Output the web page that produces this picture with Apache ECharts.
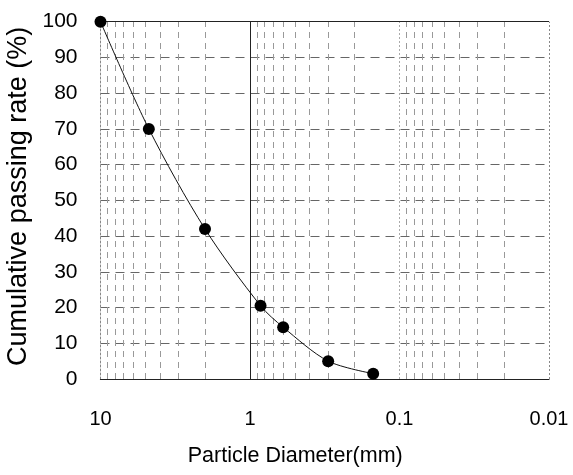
<!DOCTYPE html>
<html>
<head>
<meta charset="utf-8">
<script src="https://cdn.jsdelivr.net/npm/echarts@6/dist/echarts.min.js"></script>
<style>
html,body{margin:0;padding:0;background:#fff;}
#chart{width:573px;height:475px;}
</style>
</head>
<body>
<div id="chart"></div>
<script>
// ---- data ----
var diameters = [10, 4.75, 2.0, 0.85, 0.6, 0.3, 0.15];          // mm
var passing   = [100, 70, 42, 20.5, 14.5, 5, 1.5];                // %
var xTickValues = [10, 1, 0.1, 0.01];
var xTickLabels = ['10', '1', '0.1', '0.01'];
var yTickLabels = ['0','10','20','30','40','50','60','70','80','90','100'];
var minorGridX = [9,8,7,6,5,4,3,2, 0.9,0.8,0.7,0.6,0.5,0.4,0.3,0.2, 0.09,0.08,0.07,0.06,0.05,0.04,0.03,0.02];

var FONT = "'Liberation Sans', Arial, sans-serif";
var chart = echarts.init(document.getElementById('chart'), null, {renderer:'canvas'});

var points = diameters.map(function(d,i){ return [d, passing[i]]; });

var markData = [];
minorGridX.forEach(function(v){
  markData.push({xAxis: v, lineStyle:{type:[6,5], color:'#999', width:1}});
});
markData.push({xAxis: 1, lineStyle:{type:'solid', color:'#222', width:1}});
markData.push({xAxis: 0.1, lineStyle:{type:[2,2], color:'#aaa', width:1}});
markData.push({xAxis: 0.01, lineStyle:{type:[2,2], color:'#888', width:1}});
markData.push({yAxis: 100, lineStyle:{type:'solid', color:'#222', width:1.2}});

chart.setOption({
  backgroundColor:'#fff',
  animation:false,
  grid:{left:100.5, right:24, top:21.7, bottom:96, containLabel:false, outerBoundsMode:'none'},
  xAxis:{
    type:'log', logBase:10, min:0.01, max:10, inverse:true,
    name:'Particle Diameter(mm)', nameLocation:'middle', nameGap:66,
    nameTextStyle:{fontFamily:FONT, fontSize:21.5, color:'#000', padding:[0,59,0,0]},
    axisLine:{show:true, onZero:false, lineStyle:{color:'#222', width:1.2}},
    axisTick:{show:false},
    splitLine:{show:false},
    axisLabel:{
      margin:30, fontFamily:FONT, fontSize:20, color:'#000',
      formatter:function(v){
        for (var i=0;i<xTickValues.length;i++){ if (Math.abs(Math.log10(v)-Math.log10(xTickValues[i]))<1e-6) return xTickLabels[i]; }
        return '';
      }
    }
  },
  yAxis:{
    type:'value', min:0, max:100, interval:10,
    name:'Cumulative passing rate (%)', nameLocation:'middle', nameGap:57,
    nameTextStyle:{fontFamily:FONT, fontSize:27, color:'#000', padding:[0,0,0,8]},
    axisLine:{show:true, lineStyle:{color:'#888', type:[2,2]}},
    axisTick:{show:false},
    axisLabel:{margin:23, fontFamily:FONT, fontSize:21, color:'#000',
      formatter:function(v){ return yTickLabels[Math.round(v/10)]; }},
    splitLine:{show:true, lineStyle:{type:[9,6], color:'#666', width:1}}
  },
  series:[{
    type:'line',
    data:points,
    smooth:0.3,
    clip:false,
    symbol:'circle',
    symbolSize:12,
    itemStyle:{color:'#000'},
    lineStyle:{color:'#111', width:1},
    z:5,
    markLine:{
      silent:true, symbol:['none','none'], label:{show:false},
      data: markData,
      z:1
    }
  }]
});
</script>
</body>
</html>
